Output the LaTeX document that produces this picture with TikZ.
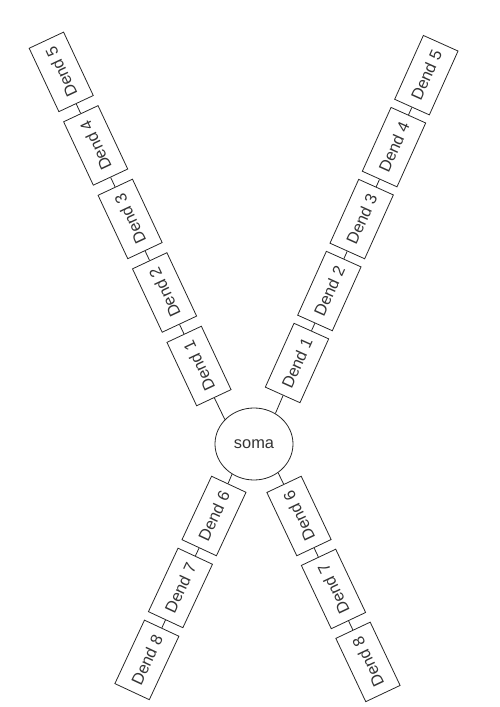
\documentclass[tikz,border=0pt]{standalone}
\usepackage{fontspec}
\setmainfont{Liberation Sans}
\usepackage{tikz}
\usetikzlibrary{shapes,positioning}

\begin{document}
\begin{tikzpicture}[x=1pt,y=1pt,line width=0.8pt,font=\fontsize{16.4}{19}\selectfont]%soma with dendrites

  \tikzstyle{dend}=[rectangle,draw=black!85,text=black!80,minimum width=70pt,
  		    minimum height=38pt,inner sep=2pt]
  \tikzstyle{cell}=[ellipse,draw=black!85,text=black!80,minimum width=78pt,
  		    minimum height=72pt,inner sep=0pt]
  \tikzstyle{every edge}=[draw=black!85]

  \useasboundingbox (0,0) rectangle (500,707);

  \node [cell] (soma) at (254,263) {soma};

  %upper left
  \begin{scope}[shift={(199,341)},rotate=115.1,transform shape,node distance=81.2pt]
    \node [dend] (l1)                {Dend 1} edge (soma.140);
    \node [dend] (l2) [right of=l1]  {Dend 2} edge (l1);
    \node [dend] (l3) [right of=l2]  {Dend 3} edge (l2);
    \node [dend] (l4) [right of=l3]  {Dend 4} edge (l3);
    \node [dend] (l5) [right of=l4]  {Dend 5} edge (l4);
  \end{scope}

  %upper right
  \begin{scope}[shift={(297,344)},rotate=65.8,transform shape,node distance=78.9pt]
    \node [dend] (r1)                {Dend 1} edge (soma.55);
    \node [dend] (r2) [right of=r1]  {Dend 2} edge (r1);
    \node [dend] (r3) [right of=r2]  {Dend 3} edge (r2);
    \node [dend] (r4) [right of=r3]  {Dend 4} edge (r3);
    \node [dend] (r5) [right of=r4]  {Dend 5} edge (r4);
  \end{scope}

  %lower left
  \begin{scope}[shift={(214,191)},rotate=65,transform shape,node distance=79.4pt]
    \node [dend] (bl6)               {Dend 6} edge (soma.-126);
    \node [dend] (bl7) [left of=bl6] {Dend 7} edge (bl6);
    \node [dend] (bl8) [left of=bl7] {Dend 8} edge (bl7);
  \end{scope}

  %lower right
  \begin{scope}[shift={(299,191)},rotate=115.3,transform shape,node distance=80.7pt]
    \node [dend] (br6)               {Dend 6} edge (soma.-50);
    \node [dend] (br7) [left of=br6] {Dend 7} edge (br6);
    \node [dend] (br8) [left of=br7] {Dend 8} edge (br7);
  \end{scope}

\end{tikzpicture}
\end{document}
